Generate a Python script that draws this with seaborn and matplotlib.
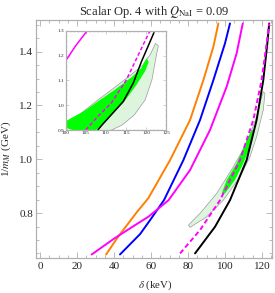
import numpy as np
import matplotlib
matplotlib.use('Agg')
import matplotlib.pyplot as plt
from matplotlib.ticker import MultipleLocator
import seaborn as sns

# ─── data (delta in keV, 1/m_M in GeV) ───────────────────────────────────────
orange_d = [35.7, 42.0, 52.5, 58.5, 70.3, 81.1, 88.3, 93.7, 96.4]
orange_m = [0.646, 0.710, 0.805, 0.855, 0.997, 1.146, 1.294, 1.418, 1.505]

blue_d = [43.2, 54.1, 59.5, 67.0, 77.5, 86.5, 93.7, 100.0, 102.7]
blue_m = [0.646, 0.722, 0.774, 0.848, 0.997, 1.146, 1.294, 1.431, 1.505]

magenta_d = [27.9, 40.0, 52.0, 58.5, 69.5, 81.1, 91.9, 100.9, 106.3, 109.6]
magenta_m = [0.646, 0.705, 0.758, 0.786, 0.848, 0.960, 1.109, 1.270, 1.394, 1.505]

dashed_d = [75.7, 86.5, 97.3, 108.1, 115.3, 119.8, 122.5, 123.9]
dashed_m = [0.650, 0.737, 0.848, 0.997, 1.146, 1.294, 1.431, 1.505]

black_d = [83.8, 94.6, 102.7, 111.7, 117.1, 120.7, 122.9, 123.9]
black_m = [0.650, 0.749, 0.848, 0.997, 1.146, 1.294, 1.431, 1.505]

# allowed regions (outline, going up one side and down the other)
light_d = [80.2, 86.5, 95.5, 104.5, 111.7, 117.1, 119.8, 120.7,
           121.6, 120.7, 117.1, 113.5, 108.1, 99.1, 90.1, 81.1]
light_m = [0.755, 0.799, 0.873, 0.972, 1.059, 1.158, 1.232, 1.251,
           1.245, 1.183, 1.084, 1.009, 0.935, 0.848, 0.786, 0.747]

bright_d = [98.2, 100.9, 106.3, 111.7, 114.4, 115.3, 113.5, 109.9, 105.4, 100.0]
bright_m = [0.873, 0.923, 0.985, 1.071, 1.109, 1.109, 1.046, 0.985, 0.923, 0.873]

# inset (zoom on the allowed region)
in_black_d = [108.0, 109.3, 111.8, 114.3, 116.8, 118.8, 120.5, 121.9]
in_black_m = [0.900, 0.925, 0.970, 1.015, 1.090, 1.176, 1.240, 1.293]

in_dashed_d = [105.0, 108.0, 111.3, 115.0, 118.4, 120.8]
in_dashed_m = [0.900, 0.955, 1.008, 1.100, 1.216, 1.297]

in_magenta_d = [99.5, 100.2, 102.5, 105.2]
in_magenta_m = [1.170, 1.183, 1.240, 1.297]

in_light_d = [98.0, 100.4, 104.0, 108.0, 112.0, 115.6, 119.0, 121.0, 122.3,
              123.0, 122.6, 121.4, 119.7, 117.0, 114.0, 111.4, 110.0, 98.0]
in_light_m = [0.915, 0.930, 0.970, 1.021, 1.070, 1.115, 1.160, 1.205, 1.250,
              1.240, 1.210, 1.102, 1.021, 0.960, 0.920, 0.900, 0.880, 0.880]

in_bright_d = [99.0, 101.3, 104.5, 107.9, 112.0, 116.5, 118.8, 120.1,
               120.6, 119.8, 117.5, 114.5, 112.0, 109.5, 107.6, 106.0, 101.7, 99.0]
in_bright_m = [0.925, 0.947, 0.975, 1.014, 1.060, 1.115, 1.150, 1.190,
               1.175, 1.140, 1.080, 1.014, 0.970, 0.925, 0.900, 0.870, 0.900, 0.915]

ORANGE, BLUE, MAGENTA = '#ff8000', '#0000ff', '#ff00ff'
LIGHT, BRIGHT, EDGE = '#dcf5dc', '#00ff00', '#9a9a9a'
FRAME = '#b0b0b0'

sns.set_theme(style='ticks')
plt.rcParams['font.family'] = ['Liberation Serif', 'DejaVu Serif']
plt.rcParams['mathtext.fontset'] = 'stix'

fig = plt.figure(figsize=(2.75, 2.93), dpi=100)
ax = fig.add_axes([0.131, 0.1195, 0.858, 0.8125])


def style_frame(a, size, major, minor):
    for s in a.spines.values():
        s.set_color(FRAME)
        s.set_linewidth(0.9)
    a.tick_params(which='both', direction='in', top=True, right=True,
                  color=FRAME, width=0.6)
    a.tick_params(which='major', length=major, labelsize=size)
    a.tick_params(which='minor', length=minor)


# ─── main panel ──────────────────────────────────────────────────────────────
ax.fill(light_d, light_m, facecolor=LIGHT, edgecolor=EDGE, lw=0.5, zorder=1)
ax.fill(bright_d, bright_m, facecolor=BRIGHT, edgecolor='none', zorder=1.5)

for d, m, c in [(orange_d, orange_m, ORANGE), (blue_d, blue_m, BLUE),
                (magenta_d, magenta_m, MAGENTA), (black_d, black_m, 'black')]:
    sns.lineplot(x=d, y=m, sort=False, estimator=None, color=c, lw=1.4, ax=ax)
sns.lineplot(x=dashed_d, y=dashed_m, sort=False, estimator=None, color=MAGENTA,
             lw=1.4, linestyle=(0, (2.5, 1.5)), ax=ax)

ax.set_xlim(-2.2, 125.4)
ax.set_ylim(0.633, 1.518)
ax.xaxis.set_minor_locator(MultipleLocator(5))
ax.yaxis.set_minor_locator(MultipleLocator(0.05))
ax.set_xticks([0, 20, 40, 60, 80, 100, 120])
ax.set_yticks([0.8, 1.0, 1.2, 1.4])
ax.set_yticklabels(['0.8', '1.0', '1.2', '1.4'])
style_frame(ax, 8, 4, 2)
ax.tick_params(axis='x', pad=3)
ax.tick_params(axis='y', pad=2)

ax.set_xlabel(r'$\delta$ (keV)', fontsize=7.8)
ax.set_ylabel(r'1/$m_M$ (GeV)', fontsize=8)
ax.xaxis.set_label_coords(0.504, -0.085)
ax.yaxis.set_label_coords(-0.099, 0.458)
ax.set_title(r'Scalar Op. 4 with $Q_{\mathrm{NaI}}$ = 0.09', fontsize=9, pad=3)

# ─── inset ───────────────────────────────────────────────────────────────────
ins = fig.add_axes([0.2382, 0.5563, 0.367, 0.338])
ins.fill(in_light_d, in_light_m, facecolor=LIGHT, edgecolor=EDGE, lw=0.5, zorder=1)
ins.fill(in_bright_d, in_bright_m, facecolor=BRIGHT, edgecolor='none', zorder=1.5)
sns.lineplot(x=in_magenta_d, y=in_magenta_m, sort=False, estimator=None,
             color=MAGENTA, lw=1.1, ax=ins)
sns.lineplot(x=in_black_d, y=in_black_m, sort=False, estimator=None,
             color='black', lw=1.1, ax=ins)
sns.lineplot(x=in_dashed_d, y=in_dashed_m, sort=False, estimator=None,
             color=MAGENTA, lw=1.1, linestyle=(0, (2.5, 1.5)), ax=ins)
ins.set_xlim(100, 125)
ins.set_ylim(0.9, 1.3)
ins.set_xticks([100, 105, 110, 115, 120, 125])
ins.set_yticks([0.9, 1.0, 1.1, 1.2, 1.3])
ins.set_yticklabels(['0.9', '1.0', '1.1', '1.2', '1.3'])
ins.xaxis.set_minor_locator(MultipleLocator(1))
ins.yaxis.set_minor_locator(MultipleLocator(0.02))
style_frame(ins, 3.8, 2, 1)
ins.tick_params(which='both', width=0.4, pad=1)
ins.set_facecolor('white')

fig.savefig('out.png', dpi=100)
